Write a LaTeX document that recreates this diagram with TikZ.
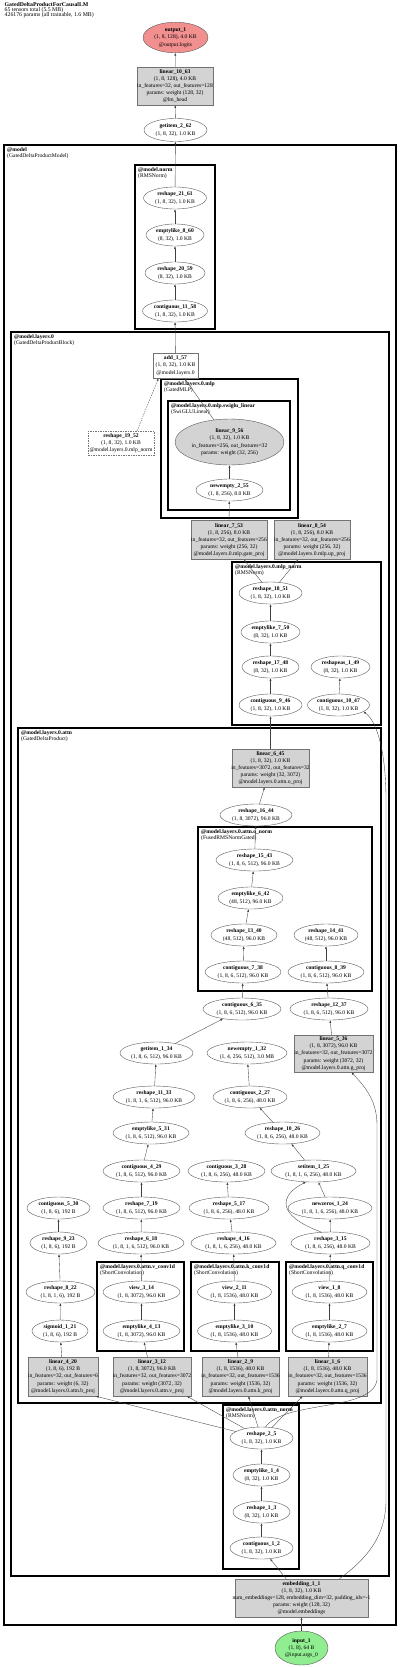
\documentclass[tikz,border=0pt]{standalone}
\usepackage{fontspec}
\setmainfont{Liberation Serif}
\usetikzlibrary{shapes.geometric,arrows.meta}
\definecolor{salmonc}{HTML}{F29090}
\definecolor{greenc}{HTML}{90EE90}
\definecolor{grayfill}{HTML}{D3D3D3}
\newcommand\Lb[1]{\makebox[0pt]{\begin{tabular}{@{}c@{}}#1\end{tabular}}}
\begin{document}
\begin{tikzpicture}[x=1pt,y=-1pt,
  every node/.style={font=\fontsize{5.6}{7.2}\selectfont},
  ell/.style={ellipse, draw=black!65, line width=0.4pt, inner sep=0pt, minimum height=22pt},
  gbox/.style={rectangle, draw=black!55, fill=grayfill, line width=0.5pt, inner sep=0pt, minimum height=38pt},
  wbox/.style={rectangle, draw=black!55, line width=0.4pt, inner sep=0pt},
  clus/.style={draw=black, line width=1.3pt},
  bigclus/.style={draw=black, line width=1.9pt},
  clab/.style={anchor=north west, inner sep=0pt, align=left, font=\fontsize{5.6}{6}\selectfont},
  e/.style={-{Latex[length=2.6pt,width=2pt]}, line width=0.35pt, draw=black!75}]
\useasboundingbox (0,0) rectangle (400,1667);

% title
\node[anchor=north west, inner sep=0pt, align=left, font=\fontsize{5.8}{5.3}\selectfont] (title) at (4.5,2)
  {\textbf{GatedDeltaProductForCausalLM}\\65 tensors total (5.5 MB)\\426176 params (all trainable, 1.6 MB)};

% clusters
\draw[bigclus] (4,145) rectangle (396,1625);
\node[clab] (lmodel) at (7,147) {\textbf{@model}\\(GatedDeltaProductModel)};
\draw[clus] (135,165) rectangle (215,329);
\node[clab] (lnorm) at (138,167) {\textbf{@model.norm}\\(RMSNorm)};
\draw[bigclus] (11,332) rectangle (389,1576);
\node[clab] (llay) at (14,334) {\textbf{@model.layers.0}\\(GatedDeltaProductBlock)};
\draw[clus] (161,379) rectangle (298,518);
\node[clab] (lmlp) at (164,381) {\textbf{@model.layers.0.mlp}\\(GatedMLP)};
\draw[clus] (168,401) rectangle (290,510);
\node[clab] (lswi) at (171,403) {\textbf{@model.layers.0.mlp.swiglu\_linear}\\(SwiGLULinear)};
\draw[clus] (232,562) rectangle (381,725);
\node[clab] (lmlpn) at (235,564) {\textbf{@model.layers.0.mlp\_norm}\\(RMSNorm)};
\draw[clus] (18,728) rectangle (381,1403);
\node[clab] (lattn) at (21,730) {\textbf{@model.layers.0.attn}\\(GatedDeltaProduct)};
\draw[clus] (198,827) rectangle (372,991);
\node[clab] (lonorm) at (201,829) {\textbf{@model.layers.0.attn.o\_norm}\\(FusedRMSNormGated)};
\draw[clus] (97,1262) rectangle (184,1351);
\node[clab] (lv) at (100,1264) {\textbf{@model.layers.0.attn.v\_conv1d}\\(ShortConvolution)};
\draw[clus] (191,1262) rectangle (279,1351);
\node[clab] (lk) at (194,1264) {\textbf{@model.layers.0.attn.k\_conv1d}\\(ShortConvolution)};
\draw[clus] (286,1262) rectangle (373,1351);
\node[clab] (lq) at (289,1264) {\textbf{@model.layers.0.attn.q\_conv1d}\\(ShortConvolution)};
\draw[clus] (223,1405) rectangle (299,1569);
\node[clab] (lan) at (226,1407) {\textbf{@model.layers.0.attn\_norm}\\(RMSNorm)};

% nodes top
\node[ell, fill=salmonc, minimum width=65, minimum height=26] (out1) at (175.5,37.5) {\Lb{\textbf{output\_1}\\(1, 8, 128), 4.0 KB\\@output.logits}};
\node[gbox, minimum width=76] (lin10) at (175,86) {\Lb{\textbf{linear\_10\_63}\\(1, 8, 128), 4.0 KB\\in\_features=32, out\_features=128\\params: weight (128, 32)\\@lm\_head}};
\node[ell, minimum width=63, minimum height=23] (get2) at (175.5,130) {\Lb{\textbf{getitem\_2\_62}\\(1, 8, 32), 1.0 KB}};
\node[ell, minimum width=63] (r21) at (175,198) {\Lb{\textbf{reshape\_21\_61}\\(1, 8, 32), 1.0 KB}};
\node[ell, minimum width=58] (emp8) at (175,235) {\Lb{\textbf{emptylike\_8\_60}\\(8, 32), 1.0 KB}};
\node[ell, minimum width=60] (r20) at (175,273) {\Lb{\textbf{reshape\_20\_59}\\(8, 32), 1.0 KB}};
\node[ell, minimum width=65] (c11) at (175,311) {\Lb{\textbf{contiguous\_11\_58}\\(1, 8, 32), 1.0 KB}};

% layers.0 / mlp
\node[wbox, minimum width=45, minimum height=25] (add1) at (175.5,365.5) {\Lb{\textbf{add\_1\_57}\\(1, 8, 32), 1.0 KB\\@model.layers.0}};
\node[ell, fill=grayfill, minimum width=109, minimum height=46] (lin9) at (229.5,442) {\Lb{\textbf{linear\_9\_56}\\(1, 8, 32), 1.0 KB\\in\_features=256, out\_features=32\\params: weight (32, 256)}};
\node[ell, minimum width=67] (ne2) at (229.5,490) {\Lb{\textbf{newempty\_2\_55}\\(1, 8, 256), 8.0 KB}};
\node[wbox, dashed, dash pattern=on 1.5pt off 1pt, minimum width=66, minimum height=24] (r19) at (121,443) {\Lb{\textbf{reshape\_19\_52}\\(1, 8, 32), 1.0 KB\\@model.layers.0.mlp\_norm}};
\node[gbox, minimum width=76, minimum height=39] (lin7) at (229,540) {\Lb{\textbf{linear\_7\_53}\\(1, 8, 256), 8.0 KB\\in\_features=32, out\_features=256\\params: weight (256, 32)\\@model.layers.0.mlp.gate\_proj}};
\node[gbox, minimum width=76, minimum height=39] (lin8) at (312,540) {\Lb{\textbf{linear\_8\_54}\\(1, 8, 256), 8.0 KB\\in\_features=32, out\_features=256\\params: weight (256, 32)\\@model.layers.0.mlp.up\_proj}};

% mlp_norm
\node[ell, minimum width=63] (r18) at (270.5,593) {\Lb{\textbf{reshape\_18\_51}\\(1, 8, 32), 1.0 KB}};
\node[ell, minimum width=59] (emp7) at (270.5,632) {\Lb{\textbf{emptylike\_7\_50}\\(8, 32), 1.0 KB}};
\node[ell, minimum width=57] (r17) at (270.5,667) {\Lb{\textbf{reshape\_17\_48}\\(8, 32), 1.0 KB}};
\node[ell, minimum width=59] (rsa1) at (340.5,667) {\Lb{\textbf{reshapeas\_1\_49}\\(8, 32), 1.0 KB}};
\node[ell, minimum width=63] (c9) at (270.5,705) {\Lb{\textbf{contiguous\_9\_46}\\(1, 8, 32), 1.0 KB}};
\node[ell, minimum width=62] (c10) at (338.5,705) {\Lb{\textbf{contiguous\_10\_47}\\(1, 8, 32), 1.0 KB}};

% attn
\node[gbox, minimum width=77] (lin6) at (270.5,768) {\Lb{\textbf{linear\_6\_45}\\(1, 8, 32), 1.0 KB\\in\_features=3072, out\_features=32\\params: weight (32, 3072)\\@model.layers.0.attn.o\_proj}};
\node[ell, minimum width=72] (r16) at (256,815) {\Lb{\textbf{reshape\_16\_44}\\(1, 8, 3072), 96.0 KB}};
\node[ell, minimum width=77] (r15) at (254.5,860) {\Lb{\textbf{reshape\_15\_43}\\(1, 8, 6, 512), 96.0 KB}};
\node[ell, minimum width=65] (emp6) at (250.5,898) {\Lb{\textbf{emptylike\_6\_42}\\(48, 512), 96.0 KB}};
\node[ell, minimum width=66] (r13) at (244,935) {\Lb{\textbf{reshape\_13\_40}\\(48, 512), 96.0 KB}};
\node[ell, minimum width=64] (r14) at (326,935) {\Lb{\textbf{reshape\_14\_41}\\(48, 512), 96.0 KB}};
\node[ell, minimum width=76] (c7) at (243,972) {\Lb{\textbf{contiguous\_7\_38}\\(1, 8, 6, 512), 96.0 KB}};
\node[ell, minimum width=76] (c8) at (326,972) {\Lb{\textbf{contiguous\_8\_39}\\(1, 8, 6, 512), 96.0 KB}};
\node[ell, minimum width=78] (c6) at (242,1009) {\Lb{\textbf{contiguous\_6\_35}\\(1, 8, 6, 512), 96.0 KB}};
\node[ell, minimum width=78] (r12) at (329,1009) {\Lb{\textbf{reshape\_12\_37}\\(1, 8, 6, 512), 96.0 KB}};
\node[gbox, minimum width=79, minimum height=37] (lin5) at (333.5,1053.5) {\Lb{\textbf{linear\_5\_36}\\(1, 8, 3072), 96.0 KB\\in\_features=32, out\_features=3072\\params: weight (3072, 32)\\@model.layers.0.attn.g\_proj}};
\node[ell, minimum width=73] (get1) at (156.5,1053) {\Lb{\textbf{getitem\_1\_34}\\(1, 8, 6, 512), 96.0 KB}};
\node[ell, minimum width=80] (ne1) at (247,1053) {\Lb{\textbf{newempty\_1\_32}\\(1, 4, 256, 512), 3.0 MB}};
\node[ell, minimum width=82] (r11) at (154,1097) {\Lb{\textbf{reshape\_11\_33}\\(1, 8, 1, 6, 512), 96.0 KB}};
\node[ell, minimum width=74] (c2) at (250,1097) {\Lb{\textbf{contiguous\_2\_27}\\(1, 8, 6, 256), 48.0 KB}};
\node[ell, minimum width=76] (emp5) at (151,1133) {\Lb{\textbf{emptylike\_5\_31}\\(1, 8, 6, 512), 96.0 KB}};
\node[ell, minimum width=75] (r10) at (282.5,1133) {\Lb{\textbf{reshape\_10\_26}\\(1, 8, 6, 256), 48.0 KB}};
\node[ell, minimum width=77] (c4) at (141.5,1171) {\Lb{\textbf{contiguous\_4\_29}\\(1, 8, 6, 512), 96.0 KB}};
\node[ell, minimum width=77] (c3) at (226.5,1171) {\Lb{\textbf{contiguous\_3\_28}\\(1, 8, 6, 256), 48.0 KB}};
\node[ell, minimum width=85] (set1) at (313.5,1171) {\Lb{\textbf{setitem\_1\_25}\\(1, 8, 1, 6, 256), 48.0 KB}};
\node[ell, minimum width=63] (c5) at (58.5,1208) {\Lb{\textbf{contiguous\_5\_30}\\(1, 8, 6), 192 B}};
\node[ell, minimum width=77] (r7) at (141.5,1208) {\Lb{\textbf{reshape\_7\_19}\\(1, 8, 6, 512), 96.0 KB}};
\node[ell, minimum width=80] (r5) at (229,1208) {\Lb{\textbf{reshape\_5\_17}\\(1, 8, 6, 256), 48.0 KB}};
\node[ell, minimum width=84] (nz1) at (330,1208) {\Lb{\textbf{newzeros\_1\_24}\\(1, 8, 1, 6, 256), 48.0 KB}};
\node[ell, minimum width=57] (r9) at (58.5,1243) {\Lb{\textbf{reshape\_9\_23}\\(1, 8, 6), 192 B}};
\node[ell, minimum width=86] (r6) at (141,1243) {\Lb{\textbf{reshape\_6\_18}\\(1, 8, 1, 6, 512), 96.0 KB}};
\node[ell, minimum width=85] (r4) at (233.5,1243) {\Lb{\textbf{reshape\_4\_16}\\(1, 8, 1, 6, 256), 48.0 KB}};
\node[ell, minimum width=79] (r3) at (330.5,1243) {\Lb{\textbf{reshape\_3\_15}\\(1, 8, 6, 256), 48.0 KB}};
\node[ell, minimum width=69] (r8) at (60.5,1292) {\Lb{\textbf{reshape\_8\_22}\\(1, 8, 1, 6), 192 B}};
\node[ell, minimum width=56] (sig1) at (60,1331) {\Lb{\textbf{sigmoid\_1\_21}\\(1, 8, 6), 192 B}};
\node[ell, minimum width=77] (v3) at (141.5,1292) {\Lb{\textbf{view\_3\_14}\\(1, 8, 3072), 96.0 KB}};
\node[ell, minimum width=77] (emp4) at (141.5,1331) {\Lb{\textbf{emptylike\_4\_13}\\(1, 8, 3072), 96.0 KB}};
\node[ell, minimum width=74] (v2) at (234.5,1292) {\Lb{\textbf{view\_2\_11}\\(1, 8, 1536), 48.0 KB}};
\node[ell, minimum width=74] (emp3) at (234.5,1331) {\Lb{\textbf{emptylike\_3\_10}\\(1, 8, 1536), 48.0 KB}};
\node[ell, minimum width=75] (v1) at (329.5,1292) {\Lb{\textbf{view\_1\_8}\\(1, 8, 1536), 48.0 KB}};
\node[ell, minimum width=75] (emp2) at (329.5,1331) {\Lb{\textbf{emptylike\_2\_7}\\(1, 8, 1536), 48.0 KB}};
\node[gbox, minimum width=70, minimum height=39] (lin4) at (63,1376.5) {\Lb{\textbf{linear\_4\_20}\\(1, 8, 6), 192 B\\in\_features=32, out\_features=6\\params: weight (6, 32)\\@model.layers.0.attn.b\_proj}};
\node[gbox, minimum width=78, minimum height=39] (lin3) at (152,1376.5) {\Lb{\textbf{linear\_3\_12}\\(1, 8, 3072), 96.0 KB\\in\_features=32, out\_features=3072\\params: weight (3072, 32)\\@model.layers.0.attn.v\_proj}};
\node[gbox, minimum width=77, minimum height=39] (lin2) at (240.5,1376.5) {\Lb{\textbf{linear\_2\_9}\\(1, 8, 1536), 48.0 KB\\in\_features=32, out\_features=1536\\params: weight (1536, 32)\\@model.layers.0.attn.k\_proj}};
\node[gbox, minimum width=79, minimum height=39] (lin1) at (327.5,1376.5) {\Lb{\textbf{linear\_1\_6}\\(1, 8, 1536), 48.0 KB\\in\_features=32, out\_features=1536\\params: weight (1536, 32)\\@model.layers.0.attn.q\_proj}};

% attn_norm
\node[ell, minimum width=63] (r2) at (261.5,1438) {\Lb{\textbf{reshape\_2\_5}\\(1, 8, 32), 1.0 KB}};
\node[ell, minimum width=57] (emp1) at (261.5,1475) {\Lb{\textbf{emptylike\_1\_4}\\(8, 32), 1.0 KB}};
\node[ell, minimum width=57] (r1) at (261.5,1512) {\Lb{\textbf{reshape\_1\_3}\\(8, 32), 1.0 KB}};
\node[ell, minimum width=63] (c1) at (261.5,1548) {\Lb{\textbf{contiguous\_1\_2}\\(1, 8, 32), 1.0 KB}};
\node[gbox, minimum width=133, minimum height=38] (emb1) at (301.5,1598) {\Lb{\textbf{embedding\_1\_1}\\(1, 8, 32), 1.0 KB\\num\_embeddings=128, embedding\_dim=32, padding\_idx=-1\\params: weight (128, 32)\\@model.embeddings}};
\node[ell, fill=greenc, minimum width=53, minimum height=34] (in1) at (301.5,1648) {\Lb{\textbf{input\_1}\\(1, 8), 64 B\\@input.args\_0}};

% edges
\draw[e] (lin10) -- (out1);
\draw[e] (get2) -- (lin10);
\draw[e] (r21) -- (get2);
\draw[e] (emp8) -- (r21);
\draw[e] (r20) -- (emp8);
\draw[e] (c11) -- (r20);
\draw[e] (add1) -- (c11);
\draw[e] (lin9) -- (add1);
\draw[e, dashed, dash pattern=on 1.5pt off 1pt] ([xshift=16]r19.north) -- ([xshift=-17]add1.south);
\draw[e] (ne2) -- (lin9);
\draw[e] (lin7.north) -- (ne2);
\draw[e] (r18) -- ([xshift=15]lin7.south);
\draw[e] (r18) -- ([xshift=-14]lin8.south);
\draw[e] (emp7) -- (r18);
\draw[e] (r17) -- (emp7);
\draw[e] (c9) -- (r17);
\draw[e] (c10) -- (rsa1);
\draw[e] (lin6) -- (c9);
\draw[e] (r16) -- (lin6);
\draw[e] (r15) -- (r16);
\draw[e] (emp6) -- (r15);
\draw[e] (r13) -- (emp6);
\draw[e] (c7) -- (r13);
\draw[e] (c8) -- (r14);
\draw[e] (c6) -- (c7);
\draw[e] (r12) -- (c8);
\draw[e] (lin5) -- (r12);
\draw[e] (get1) -- (c6);
\draw[e] (r11) -- (get1);
\draw[e] (emp5) -- (r11);
\draw[e] (c4) -- (emp5);
\draw[e] (r7) -- (c4);
\draw[e] (r6) -- (r7);
\draw[e] (v3) -- (r6);
\draw[e] (emp4) -- (v3);
\draw[e] (lin3) -- (emp4);
\draw[e] (c2) -- (ne1);
\draw[e] (r10) -- (c2);
\draw[e] (set1) -- (r10);
\draw[e] (nz1) -- (set1);
\draw[e] (r3) -- (nz1);
\draw[e] (r3.130) .. controls (275,1215) and (280,1195) .. (set1.-125);
\draw[e] (v1) -- (r3);
\draw[e] (emp2) -- (v1);
\draw[e] (lin1) -- (emp2);
\draw[e] (r5) -- (c3);
\draw[e] (r4) -- (r5);
\draw[e] (v2) -- (r4);
\draw[e] (emp3) -- (v2);
\draw[e] (lin2) -- (emp3);
\draw[e] (r9) -- (c5);
\draw[e] (r8) -- (r9);
\draw[e] (sig1) -- (r8);
\draw[e] (lin4) -- (sig1);
\draw[e] (r2) -- ([xshift=33]lin4.south);
\draw[e] (r2) -- ([xshift=35]lin3.south);
\draw[e] (r2) -- ([xshift=8]lin2.south);
\draw[e] (r2) -- ([xshift=-25]lin1.south);
\coordinate (k1) at (377,1380);
\coordinate (k2) at (377,1125);
\draw[e] (r2.70) .. controls (285,1400) and (372,1412) .. (k1) -- (k2) .. controls (377,1098) and (362,1084) .. ([xshift=18]lin5.south);
\draw[e] (emp1) -- (r2);
\draw[e] (r1) -- (emp1);
\draw[e] (c1) -- (r1);
\draw[e] (emb1) -- (c1);
\coordinate (k3) at (386,1500);
\coordinate (k4) at (386,800);
\draw[e] ([xshift=38]emb1.north) .. controls (362,1562) and (386,1540) .. (k3) -- (k4) .. controls (386,755) and (378,722) .. (c10.-15);
\draw[e] (in1) -- (emb1);
\end{tikzpicture}
\end{document}
